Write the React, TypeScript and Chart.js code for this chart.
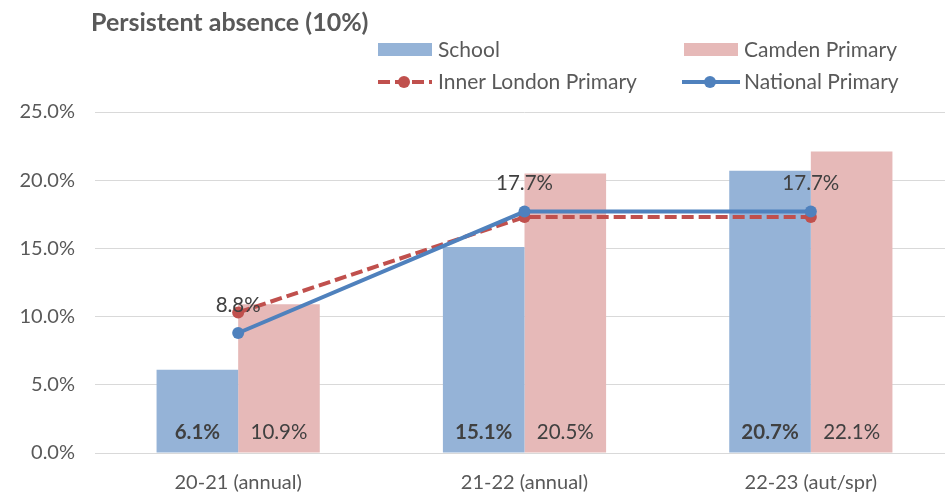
import React, { useEffect, useRef } from "react";
import { Chart, registerables } from "chart.js";
Chart.register(...registerables);

const categories = ["20-21 (annual)", "21-22 (annual)", "22-23 (aut/spr)"];
const school = [6.1, 15.1, 20.7];
const camden = [10.9, 20.5, 22.1];
const innerLondon = [10.3, 17.3, 17.3];
const national = [8.8, 17.7, 17.7];
const yMin = 0;
const yMax = 25;
const yStep = 5;
const chartTitle = "Persistent absence (10%)";
const seriesNames = ["School", "Camden Primary", "Inner London Primary", "National Primary"];

const C_SCHOOL = "#95B3D7";
const C_CAMDEN = "#E6B9B8";
const C_INNER = "#C0504D";
const C_NATIONAL = "#4F81BD";
const TXT = "#595959";
const LBL = "#404040";
const FONT = "Lato, 'Open Sans', sans-serif";

const decoPlugin = {
  id: "deco",
  afterDatasetsDraw(chart: any) {
    const ctx = chart.ctx;
    const y0 = chart.scales.y.getPixelForValue(0);
    ctx.save();
    ctx.textAlign = "center";
    ctx.textBaseline = "middle";
    ctx.fillStyle = LBL;
    [0, 1].forEach((di) => {
      const meta = chart.getDatasetMeta(di);
      ctx.font = (di === 0 ? "bold " : "") + "20.5px " + FONT;
      meta.data.forEach((el: any, i: number) => {
        const v = chart.data.datasets[di].data[i];
        ctx.fillText(v.toFixed(1) + "%", el.x, y0 - 21);
      });
    });
    const meta = chart.getDatasetMeta(3);
    ctx.font = "20.5px " + FONT;
    meta.data.forEach((el: any, i: number) => {
      const v = chart.data.datasets[3].data[i];
      ctx.fillText(v.toFixed(1) + "%", el.x, el.y - 28);
    });
    ctx.restore();
  },
  afterDraw(chart: any) {
    const ctx = chart.ctx;
    ctx.save();
    ctx.fillStyle = TXT;
    ctx.textBaseline = "middle";
    ctx.textAlign = "left";
    ctx.font = "bold 25px " + FONT;
    ctx.fillText(chartTitle, 91, 23);
    ctx.font = "21px " + FONT;
    // row 1
    ctx.fillStyle = C_SCHOOL;
    ctx.fillRect(378, 43, 54, 13);
    ctx.fillStyle = C_CAMDEN;
    ctx.fillRect(684, 43, 54, 13);
    ctx.fillStyle = TXT;
    ctx.fillText(seriesNames[0], 438, 50);
    ctx.fillText(seriesNames[1], 744, 50);
    // row 2
    ctx.lineWidth = 4;
    ctx.strokeStyle = C_INNER;
    ctx.setLineDash([12, 5]);
    ctx.beginPath();
    ctx.moveTo(378, 82);
    ctx.lineTo(432, 82);
    ctx.stroke();
    ctx.setLineDash([]);
    ctx.fillStyle = C_INNER;
    ctx.beginPath();
    ctx.arc(404, 82, 6, 0, Math.PI * 2);
    ctx.fill();
    ctx.strokeStyle = C_NATIONAL;
    ctx.beginPath();
    ctx.moveTo(682, 82);
    ctx.lineTo(740, 82);
    ctx.stroke();
    ctx.fillStyle = C_NATIONAL;
    ctx.beginPath();
    ctx.arc(710, 82, 6, 0, Math.PI * 2);
    ctx.fill();
    ctx.fillStyle = TXT;
    ctx.fillText(seriesNames[2], 438, 82);
    ctx.fillText(seriesNames[3], 744, 82);
    ctx.restore();
  },
};

export default function App() {
  const ref = useRef<HTMLCanvasElement | null>(null);
  useEffect(() => {
    if (!ref.current) return;
    const chart = new Chart(ref.current, {
      type: "bar",
      data: {
        labels: categories,
        datasets: [
          { type: "bar", label: seriesNames[0], data: school, backgroundColor: C_SCHOOL, order: 2, categoryPercentage: 0.57, barPercentage: 1 },
          { type: "bar", label: seriesNames[1], data: camden, backgroundColor: C_CAMDEN, order: 2, categoryPercentage: 0.57, barPercentage: 1 },
          { type: "line", label: seriesNames[2], data: innerLondon, borderColor: C_INNER, backgroundColor: C_INNER, borderWidth: 4, borderDash: [12, 5], pointRadius: 6, pointBorderWidth: 0, pointBackgroundColor: C_INNER, order: 1, tension: 0 },
          { type: "line", label: seriesNames[3], data: national, borderColor: C_NATIONAL, backgroundColor: C_NATIONAL, borderWidth: 4, pointRadius: 6, pointBorderWidth: 0, pointBackgroundColor: C_NATIONAL, order: 0, tension: 0 },
        ],
      } as any,
      options: {
        animation: false,
        responsive: false,
        layout: { padding: { top: 112, left: 0, right: 0, bottom: 0 } },
        plugins: { legend: { display: false }, title: { display: false }, tooltip: { enabled: false } },
        scales: {
          x: {
            grid: { display: false, drawTicks: false },
            border: { display: true, color: "#d9d9d9", width: 1 },
            ticks: { color: TXT, font: { family: FONT, size: 20 }, padding: 18 },
            afterFit: (s: any) => { s.height = 42; },
          },
          y: {
            min: yMin,
            max: yMax,
            ticks: { stepSize: yStep, color: TXT, font: { family: FONT, size: 20 }, padding: 20, callback: (v: any) => Number(v).toFixed(1) + "%" },
            grid: { color: "#d9d9d9", lineWidth: 1, drawTicks: false },
            border: { display: false },
            afterFit: (s: any) => { s.width = 95; },
          },
        },
      } as any,
      plugins: [decoPlugin],
    });
    return () => chart.destroy();
  }, []);
  return (
    <div style={{ position: "fixed", left: 0, top: 0, width: 945, height: 495, overflow: "hidden", background: "#fff" }}>
      <canvas ref={ref} width={960} height={495} style={{ width: 960, height: 495, display: "block" }} />
    </div>
  );
}
